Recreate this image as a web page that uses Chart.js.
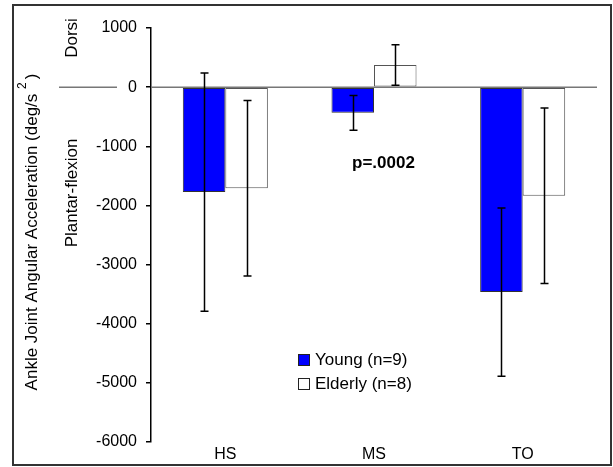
<!DOCTYPE html>
<html>
<head>
<meta charset="utf-8">
<script src="https://cdn.jsdelivr.net/npm/chart.js@4.4.0/dist/chart.umd.min.js"></script>
<style>
  html, body { margin: 0; padding: 0; background: #fff; }
  #wrap { width: 613px; height: 467px; }
</style>
</head>
<body>
<div id="wrap"><canvas id="chart" width="613" height="467"></canvas></div>
<script>
const categories = ['HS', 'MS', 'TO'];
const youngMeans = [-1775, -435, -3465];
const youngSD = [2013, 295, 1423];
const elderlyMeans = [-1710, 375, -1835];
const elderlySD = [1485, 343, 1483];
const seriesLabels = ['Young (n=9)', 'Elderly (n=8)'];
const yMin = -6000, yMax = 1000, yStep = 1000;

const FONT = '"Liberation Sans", Arial, sans-serif';

// frame, zero line and side labels
const decorPlugin = {
  id: 'decor',
  beforeDatasetsDraw(chart) {
    const ctx = chart.ctx;
    const y0 = chart.scales.y.getPixelForValue(0);
    ctx.save();
    ctx.strokeStyle = '#777';
    ctx.lineWidth = 1.5;
    ctx.beginPath();
    ctx.moveTo(59, y0); ctx.lineTo(117, y0);
    ctx.moveTo(chart.chartArea.left, y0); ctx.lineTo(chart.chartArea.right, y0);
    ctx.stroke();
    ctx.restore();
  },
  afterDraw(chart) {
    const ctx = chart.ctx;
    ctx.save();
    ctx.strokeStyle = '#333';
    ctx.lineWidth = 2;
    ctx.strokeRect(13, 5, 598, 460);

    ctx.fillStyle = '#000';
    ctx.font = '17px ' + FONT;
    ctx.textBaseline = 'middle';

    // rotated labels
    const rot = (text, x, y) => {
      ctx.save();
      ctx.translate(x, y);
      ctx.rotate(-Math.PI / 2);
      ctx.textAlign = 'center';
      ctx.fillText(text, 0, 0);
      ctx.restore();
    };
    rot('Dorsi', 72, 38);
    rot('Plantar-flexion', 72, 193);

    // y title with superscript
    const t1 = 'Ankle Joint Angular Acceleration (deg/s ';
    const sup = '2';
    const t2 = ')';
    ctx.save();
    ctx.translate(32, 232);
    ctx.rotate(-Math.PI / 2);
    ctx.textAlign = 'left';
    const w1 = ctx.measureText(t1).width;
    ctx.font = '12px ' + FONT;
    const ws = ctx.measureText(sup).width;
    ctx.font = '17px ' + FONT;
    const w2 = ctx.measureText(t2).width;
    let x = -(w1 + ws + 3 + w2) / 2;
    ctx.fillText(t1, x, 0);
    x += w1;
    ctx.font = '12px ' + FONT;
    ctx.fillText(sup, x, -9);
    x += ws + 3;
    ctx.font = '17px ' + FONT;
    ctx.fillText(t2, x, 0);
    ctx.restore();

    // p value
    ctx.font = 'bold 17px ' + FONT;
    ctx.textAlign = 'left';
    ctx.fillText('p=.0002', 352, 163);

    // legend
    const ds = chart.data.datasets;
    const ly = [360, 384];
    ctx.font = '17px ' + FONT;
    ds.forEach((d, i) => {
      ctx.fillStyle = d.backgroundColor;
      ctx.fillRect(298.5, ly[i] - 5.5, 11, 11);
      ctx.strokeStyle = '#222';
      ctx.lineWidth = 1;
      ctx.strokeRect(298.5, ly[i] - 5.5, 11, 11);
      ctx.fillStyle = '#000';
      ctx.fillText(d.label, 315, ly[i]);
    });
    ctx.restore();
  }
};

// error bars (±SD)
const errorPlugin = {
  id: 'errbars',
  afterDatasetsDraw(chart) {
    const ctx = chart.ctx;
    const ys = chart.scales.y;
    const sds = [youngSD, elderlySD];
    ctx.save();
    ctx.strokeStyle = '#000';
    ctx.lineWidth = 1.5;
    chart.data.datasets.forEach((d, i) => {
      const meta = chart.getDatasetMeta(i);
      meta.data.forEach((bar, j) => {
        const m = d.data[j];
        const top = ys.getPixelForValue(m + sds[i][j]);
        const bot = ys.getPixelForValue(m - sds[i][j]);
        const x = Math.round(bar.x) + 0.5;
        ctx.beginPath();
        ctx.moveTo(x, top); ctx.lineTo(x, bot);
        ctx.moveTo(x - 4, top); ctx.lineTo(x + 4, top);
        ctx.moveTo(x - 4, bot); ctx.lineTo(x + 4, bot);
        ctx.stroke();
      });
    });
    ctx.restore();
  }
};

new Chart(document.getElementById('chart'), {
  type: 'bar',
  data: {
    labels: categories,
    datasets: [
      {
        label: seriesLabels[0],
        data: youngMeans,
        backgroundColor: '#0000ff',
        borderColor: '#333',
        borderWidth: 1,
        borderSkipped: false,
      },
      {
        label: seriesLabels[1],
        data: elderlyMeans,
        backgroundColor: '#ffffff',
        borderColor: '#555',
        borderWidth: 1,
        borderSkipped: false,
      },
    ],
  },
  options: {
    responsive: false,
    animation: false,
    layout: { padding: { left: 0, top: 28, right: 16, bottom: 0 } },
    datasets: { bar: { categoryPercentage: 0.572, barPercentage: 1.0 } },
    plugins: { legend: { display: false }, tooltip: { enabled: false } },
    scales: {
      x: {
        grid: { display: false, drawTicks: false },
        border: { display: false },
        ticks: { color: '#000', font: { family: FONT, size: 16 }, padding: 3 },
        afterFit(scale) { scale.height = 25; },
      },
      y: {
        min: yMin,
        max: yMax,
        ticks: {
          stepSize: yStep,
          color: '#000',
          font: { family: FONT, size: 16 },
          padding: 9,
          callback: (v) => String(v),
        },
        grid: { drawOnChartArea: false, tickLength: 5, color: '#000', lineWidth: 1.5 },
        border: { display: true, color: '#000', width: 1.5 },
        afterFit(scale) { scale.width = 151; },
      },
    },
  },
  plugins: [decorPlugin, errorPlugin],
});
</script>
</body>
</html>
